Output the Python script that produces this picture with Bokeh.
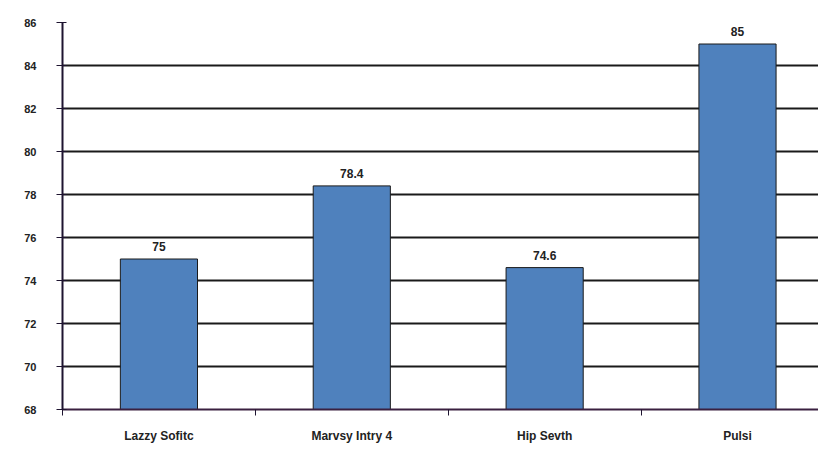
from bokeh.plotting import figure
from bokeh.models import ColumnDataSource, FixedTicker, Range1d, LabelSet
from bokeh.core.properties import value
from bokeh.embed import file_html
from bokeh.resources import INLINE

categories = ["Lazzy Sofitc", "Marvsy Intry 4", "Hip Sevth", "Pulsi"]
values = [75, 78.4, 74.6, 85]
value_labels = ["75", "78.4", "74.6", "85"]
y_ticks = [68, 70, 72, 74, 76, 78, 80, 82, 84, 86]

xs = [i + 0.5 for i in range(len(categories))]
src = ColumnDataSource(dict(x=xs, top=values, lab=value_labels))

p = figure(width=818, height=445, output_backend="svg", toolbar_location=None,
           x_range=Range1d(0, 3.92), y_range=Range1d(68, 86),
           min_border_left=62, min_border_right=0, min_border_top=22, min_border_bottom=35)
p.outline_line_color = None
p.background_fill_color = "white"

p.vbar(x="x", top="top", bottom=68, width=0.4, source=src,
       fill_color="#4F81BD", line_color="#1a1a1a", line_width=1)

labels = LabelSet(x="x", y="top", text="lab", source=src, text_align="center",
                  text_baseline="bottom", y_offset=8, text_font=value("Liberation Sans"),
                  text_font_size="12px", text_font_style="bold", text_color="#222222")
p.add_layout(labels)

p.yaxis.ticker = FixedTicker(ticks=y_ticks)
p.yaxis.axis_line_color = "#1e1430"
p.yaxis.axis_line_width = 2
p.yaxis.major_tick_out = 6
p.yaxis.major_tick_in = 4
p.yaxis.major_tick_line_color = "#1e1430"
p.yaxis.minor_tick_line_color = None
p.yaxis.major_label_standoff = 20
p.yaxis.major_label_text_font = "Liberation Sans"
p.yaxis.major_label_text_font_size = "11px"
p.yaxis.major_label_text_font_style = "bold"
p.yaxis.major_label_text_color = "#222222"

p.xaxis.ticker = FixedTicker(ticks=xs, minor_ticks=[0, 1, 2, 3])
p.xaxis.major_label_overrides = {x: c for x, c in zip(xs, categories)}
p.xaxis.axis_line_color = "#3a2040"
p.xaxis.axis_line_width = 2
p.xaxis.major_tick_line_color = None
p.xaxis.minor_tick_out = 6
p.xaxis.minor_tick_in = 0
p.xaxis.minor_tick_line_color = "#1e1430"
p.xaxis.major_label_standoff = 13
p.xaxis.major_label_text_font = "Liberation Sans"
p.xaxis.major_label_text_font_size = "12px"
p.xaxis.major_label_text_font_style = "bold"
p.xaxis.major_label_text_color = "#222222"

p.xgrid.grid_line_color = None
p.ygrid.grid_line_color = "#1a1a1a"
p.ygrid.grid_line_width = 2

open("out.html", "w").write(file_html(p, INLINE))
